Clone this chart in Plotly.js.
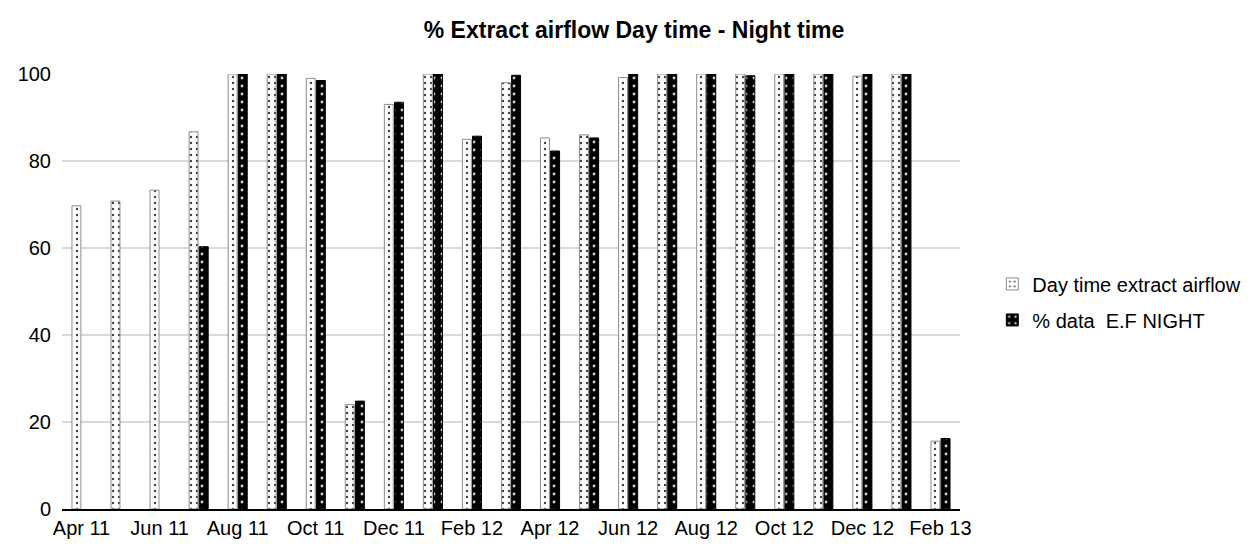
<!DOCTYPE html>
<html><head><meta charset="utf-8">
<script src="https://cdn.plot.ly/plotly-3.0.1.min.js"></script>
<style>body{margin:0;background:#fff}#c{width:1258px;height:549px}</style>
</head><body><div id="c"></div>
<script>
const months = ["Apr 11","May 11","Jun 11","Jul 11","Aug 11","Sep 11","Oct 11","Nov 11","Dec 11","Jan 12","Feb 12","Mar 12","Apr 12","May 12","Jun 12","Jul 12","Aug 12","Sep 12","Oct 12","Nov 12","Dec 12","Jan 13","Feb 13"];
const dayValues = [69.7,70.8,73.3,86.7,100,100,99,24,93,100,85,98,85.3,86,99.2,100,100,100,100,100,99.5,100,15.6];
const nightValues = [null,null,null,60.3,100,100,98.5,24.8,93.5,100,85.7,99.7,82.3,85.3,100,100,100,99.6,100,100,100,100,16.2];
const tickLabels = months.filter((m,i)=>i%2===0);
const font = "Liberation Sans, Arial, sans-serif";
const traces = [
 {type:'bar', name:'Day time extract airflow', x:months, y:dayValues, legendgroup:'a',
  marker:{color:'#ffffff', line:{color:'#8c8c8c', width:1},
   pattern:{shape:'.', fgcolor:'#404040', bgcolor:'#ffffff', size:6, solidity:0.12}}},
 {type:'bar', name:'% data  E.F NIGHT', x:months, y:nightValues, legendgroup:'b',
  marker:{color:'#000000', line:{color:'#000000', width:1},
   pattern:{shape:'.', fgcolor:'#d0d0d0', bgcolor:'#000000', size:8, solidity:0.1}}}
];
const layout = {
 width:1258, height:549,
 margin:{l:62, r:295, t:74, b:40},
 paper_bgcolor:'#fff', plot_bgcolor:'#fff',
 font:{family:font, size:20, color:'#000'},
 title:{text:'<b>% Extract airflow Day time - Night time</b>', font:{family:font, size:23, color:'#000'}, x:0.504, xanchor:'center', xref:'container', y:0.945, yanchor:'middle', yref:'container'},
 barmode:'group', bargap:0.48, bargroupgap:0.12,
 xaxis:{type:'category', tickmode:'array', tickvals:tickLabels, ticktext:tickLabels,
  showline:true, linecolor:'#000', linewidth:2, ticks:'', showgrid:false, tickfont:{size:20}},
 yaxis:{range:[0,100], tickvals:[0,20,40,60,80,100], showgrid:true, gridcolor:'#d9d9d9', gridwidth:1.5,
  zeroline:false, showline:false, ticks:'', tickfont:{size:20}, ticklabelstandoff:10},
 legend:{x:1.036, xanchor:'left', y:0.476, yanchor:'middle', font:{size:20}, itemwidth:30, tracegroupgap:7, bgcolor:'rgba(0,0,0,0)'},
 showlegend:true
};
Plotly.newPlot('c', traces, layout, {displayModeBar:false, staticPlot:true});
</script></body></html>
